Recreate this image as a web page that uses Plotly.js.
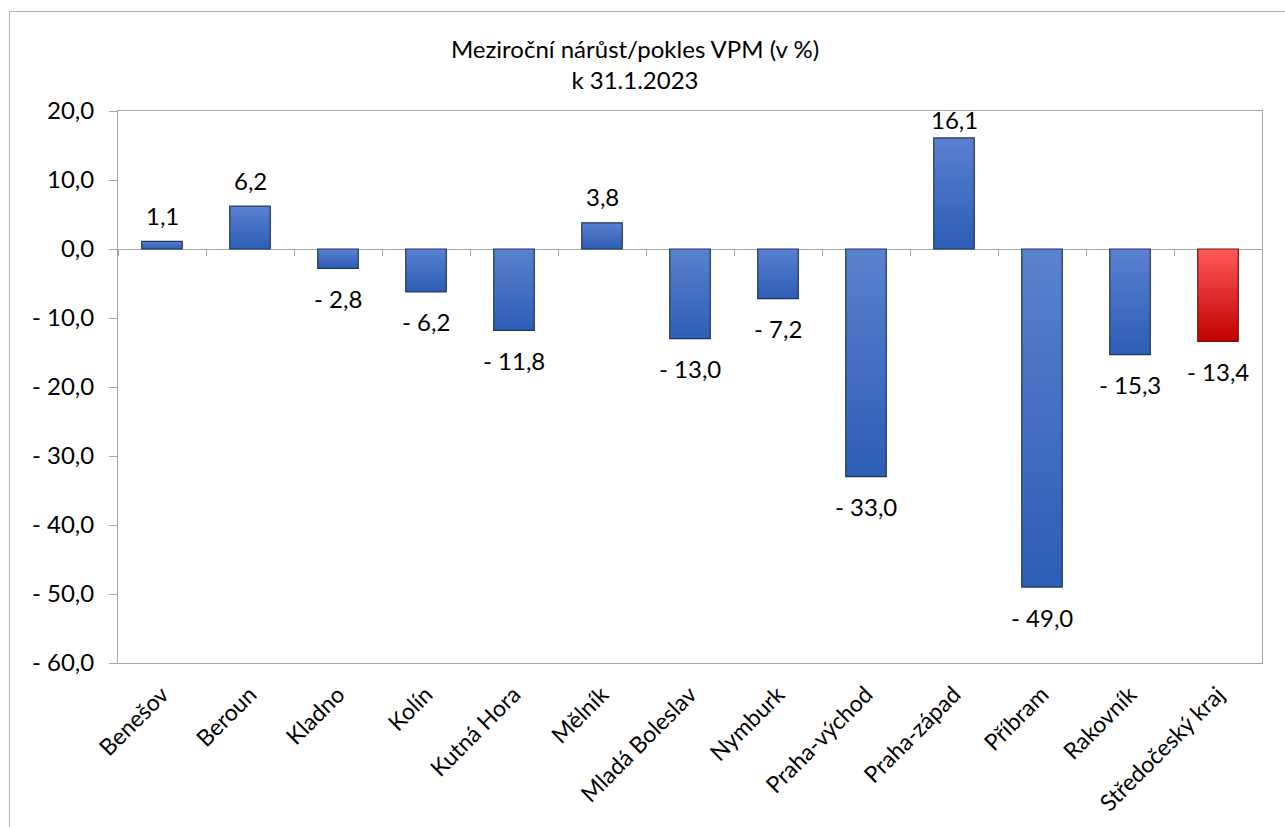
<!DOCTYPE html>
<html>
<head>
<meta charset="utf-8">
<script src="https://cdn.plot.ly/plotly-3.0.1.min.js"></script>
<style>
  html, body { margin: 0; padding: 0; background: #ffffff; }
  #frame { position: absolute; left: 9px; top: 11px; width: 1300px; height: 900px; border: 1px solid #b4b4b4; box-sizing: border-box; }
  #chart { position: absolute; left: 0; top: 0; width: 1285px; height: 827px; }
</style>
</head>
<body>
<div id="frame"></div>
<div id="chart"></div>
<script>
const categories = ["Benešov", "Beroun", "Kladno", "Kolín", "Kutná Hora", "Mělník", "Mladá Boleslav", "Nymburk", "Praha-východ", "Praha-západ", "Příbram", "Rakovník", "Středočeský kraj"];
const values = [1.1, 6.2, -2.8, -6.2, -11.8, 3.8, -13.0, -7.2, -33.0, 16.1, -49.0, -15.3, -13.4];
const yTickValues = [20, 10, 0, -10, -20, -30, -40, -50, -60];
const totalCategory = "Středočeský kraj";
const titleLines = ["Meziroční nárůst/pokles VPM (v %)", "k 31.1.2023"];

const FONT = "Lato, 'Open Sans', 'DejaVu Sans', sans-serif";
const fmt = v => (v < 0 ? "- " : "") + Math.abs(v).toFixed(1).replace(".", ",");

const BLUE = "#3f69c0", BLUE_LINE = "#1f3560";
const RED = "#e02828", RED_LINE = "#6e1010";
const isTotal = categories.map(c => c === totalCategory);

const yMin = -60, yMax = 20;
const margin = {l: 118, r: 23, t: 111, b: 164};
const plotH = 827 - margin.t - margin.b;
const pxPerUnit = plotH / (yMax - yMin);

const trace = {
  type: "bar",
  x: categories,
  y: values,
  marker: {
    color: isTotal.map(t => t ? RED : BLUE),
    line: {color: isTotal.map(t => t ? RED_LINE : BLUE_LINE), width: 1.2}
  },
  hoverinfo: "skip",
  showlegend: false
};

const ghost = {type: "scatter", x: [], y: [], xaxis: "x2", yaxis: "y", showlegend: false, hoverinfo: "skip"};

const annotations = categories.map((c, i) => {
  const v = values[i];
  let shift;
  if (v >= 0) {
    const dist = (yMax - v) * pxPerUnit;
    shift = Math.min(26, dist - 8);
  } else {
    shift = -30;
  }
  return {
    x: c, y: v, xref: "x", yref: "y",
    text: fmt(v), showarrow: false,
    yanchor: "middle", xanchor: "center", yshift: shift,
    font: {family: FONT, size: 24, color: "#000000"}
  };
});

const layout = {
  width: 1285, height: 827,
  margin: margin,
  paper_bgcolor: "rgba(0,0,0,0)",
  plot_bgcolor: "#ffffff",
  bargap: 0.54,
  font: {family: FONT, size: 24, color: "#000000"},
  title: {
    text: titleLines.join("<br>"),
    font: {family: FONT, size: 24, color: "#000000"},
    x: 635 / 1285, xref: "container", xanchor: "center",
    y: 1 - 58 / 827, yref: "container", yanchor: "middle"
  },
  xaxis: {
    type: "category",
    showline: true, linecolor: "#a6a6a6", linewidth: 1, mirror: true,
    ticks: "", showgrid: false, zeroline: false,
    tickangle: -45,
    tickfont: {family: FONT, size: 23, color: "#000000"},
    ticklabelstandoff: 8
  },
  xaxis2: {
    type: "linear", range: [-0.5, categories.length - 0.5], autorange: false,
    overlaying: "x", anchor: "free", position: (0 - yMin) / (yMax - yMin), side: "bottom",
    tick0: 0.5, dtick: 1, ticks: "outside", ticklen: 6, tickcolor: "#a6a6a6", tickwidth: 1,
    showticklabels: false, showline: false, showgrid: false, zeroline: false
  },
  yaxis: {
    range: [yMin, yMax], autorange: false,
    tickvals: yTickValues, ticktext: yTickValues.map(fmt),
    ticks: "outside", ticklen: 8, tickcolor: "#a6a6a6", tickwidth: 1,
    showline: true, linecolor: "#a6a6a6", linewidth: 1, mirror: true,
    showgrid: false,
    zeroline: true, zerolinecolor: "#a6a6a6", zerolinewidth: 1,
    tickfont: {family: FONT, size: 24, color: "#000000"},
    ticklabelstandoff: 10
  },
  annotations: annotations
};

Plotly.newPlot("chart", [trace, ghost], layout, {staticPlot: true, displayModeBar: false}).then(gd => {
  // vertical gradient fills like the original
  const svg = gd.querySelector("svg.main-svg");
  const NS = "http://www.w3.org/2000/svg";
  let defs = svg.querySelector("defs");
  if (!defs) { defs = document.createElementNS(NS, "defs"); svg.insertBefore(defs, svg.firstChild); }
  const mk = (id, top, bottom) => {
    const g = document.createElementNS(NS, "linearGradient");
    g.setAttribute("id", id);
    g.setAttribute("x1", "0"); g.setAttribute("y1", "0");
    g.setAttribute("x2", "0"); g.setAttribute("y2", "1");
    [[0, top], [1, bottom]].forEach(([o, c]) => {
      const s = document.createElementNS(NS, "stop");
      s.setAttribute("offset", o); s.setAttribute("stop-color", c);
      g.appendChild(s);
    });
    defs.appendChild(g);
  };
  mk("gBlue", "#5b80cf", "#2d5db5");
  mk("gRed", "#ff5a5a", "#c00000");
  const paths = gd.querySelectorAll(".barlayer .point path");
  paths.forEach((p, i) => {
    p.style.fill = isTotal[i] ? "url(#gRed)" : "url(#gBlue)";
  });
});
</script>
</body>
</html>
